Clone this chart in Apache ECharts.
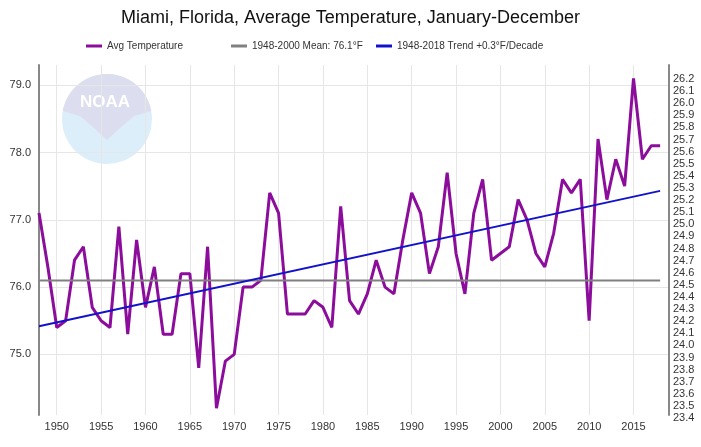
<!DOCTYPE html>
<html><head><meta charset="utf-8">
<script src="https://cdn.jsdelivr.net/npm/echarts@6/dist/echarts.min.js"></script>
<style>html,body{margin:0;padding:0;background:#fff}#c{width:701px;height:447px}</style>
</head><body><div id="c"></div>
<script>
// ---- data ----
const years = [1948,1949,1950,1951,1952,1953,1954,1955,1956,1957,
  1958,1959,1960,1961,1962,1963,1964,1965,1966,1967,
  1968,1969,1970,1971,1972,1973,1974,1975,1976,1977,
  1978,1979,1980,1981,1982,1983,1984,1985,1986,1987,
  1988,1989,1990,1991,1992,1993,1994,1995,1996,1997,
  1998,1999,2000,2001,2002,2003,2004,2005,2006,2007,
  2008,2009,2010,2011,2012,2013,2014,2015,2016,2017,2018];
const avgTemp = [77.1,76.3,75.4,75.5,76.4,76.6,75.7,75.5,75.4,76.9,
  75.3,76.7,75.7,76.3,75.3,75.3,76.2,76.2,74.8,76.6,
  74.2,74.9,75.0,76.0,76.0,76.1,77.4,77.1,75.6,75.6,
  75.6,75.8,75.7,75.4,77.2,75.8,75.6,75.9,76.4,76.0,
  75.9,76.7,77.4,77.1,76.2,76.6,77.7,76.5,75.9,77.1,
  77.6,76.4,76.5,76.6,77.3,77.0,76.5,76.3,76.8,77.6,
  77.4,77.6,75.5,78.2,77.3,77.9,77.5,79.1,77.9,78.1,78.1];
const meanYears = [1948, 2018];
const meanValues = [76.1, 76.1];
const trendYears = [1948, 2018];
const trendValues = [75.42, 77.43];
const xTickLabels = [1950,1955,1960,1965,1970,1975,1980,1985,1990,1995,2000,2005,2010,2015];
const leftTickLabels = [75, 76, 77, 78, 79];
const seriesNames = ['Avg Temperature', '1948-2000 Mean: 76.1°F', '1948-2018 Trend +0.3°F/Decade'];
const titleText = 'Miami, Florida, Average Temperature, January-December';

// ---- chart ----
const FONT = "'Liberation Sans', Arial, sans-serif";
const leftMin = 74.1, leftMax = 79.3;
const toC = f => (f - 32) / 1.8;

// decorative NOAA-like watermark shape
const LC = {x: 107, y: 119, r: 45};
const sky = [];
const a0 = Math.asin(8 / LC.r);
for (let k = 0; k <= 28; k++) {
  const t = (Math.PI + a0) + (Math.PI - 2 * a0) * k / 28;
  sky.push([LC.x + LC.r * Math.cos(t), LC.y + LC.r * Math.sin(t)]);
}
sky.push([134, 116], [120, 128], [107, 140], [94, 128], [80, 116]);

const chart = echarts.init(document.getElementById('c'), null, {renderer: 'canvas'});
const legendBase = {
  top: 36, icon: 'rect', itemWidth: 16, itemHeight: 3, itemGap: 0,
  textStyle: {fontSize: 10, color: '#333', fontFamily: FONT}
};
chart.setOption({
  animation: false,
  textStyle: {fontFamily: FONT},
  title: {text: titleText, left: 'center', top: 4,
    textStyle: {fontSize: 18, fontWeight: 'normal', color: '#111', fontFamily: FONT}},
  legend: [
    Object.assign({}, legendBase, {left: 81, data: [seriesNames[0]]}),
    Object.assign({}, legendBase, {left: 226, data: [seriesNames[1]]}),
    Object.assign({}, legendBase, {left: 371, data: [seriesNames[2]]})
  ],
  grid: {left: 39, right: 32, top: 65, bottom: 32, containLabel: false},
  graphic: [
    {type: 'circle', z: -10, silent: true, shape: {cx: LC.x, cy: LC.y, r: LC.r},
      style: {fill: '#d8ecf8', opacity: 0.9}},
    {type: 'polygon', z: -9, silent: true, shape: {points: sky},
      style: {fill: '#dcdcee', opacity: 0.95}},
    {type: 'text', z: -8, silent: true, style: {text: 'NOAA', x: LC.x - 2, y: 102, align: 'center', verticalAlign: 'middle',
      fill: '#ffffff', font: 'bold 17px ' + FONT}}
  ],
  xAxis: {
    type: 'value', min: 1948, max: 2019, splitNumber: 14, minInterval: 5, maxInterval: 5,
    axisLine: {show: false}, axisTick: {show: false},
    axisLabel: {color: '#333', fontSize: 11, margin: 6,
      formatter: v => xTickLabels.indexOf(Math.round(v)) >= 0 && Math.abs(v - Math.round(v)) < 1e-6 ? String(Math.round(v)) : ''},
    splitLine: {show: true, showMinLine: false, showMaxLine: false, lineStyle: {color: '#e6e6e6', width: 1}}
  },
  yAxis: [
    {
      type: 'value', position: 'left', min: leftMin, max: leftMax, splitNumber: 5, minInterval: 1, maxInterval: 1,
      axisLine: {show: true, lineStyle: {color: '#888', width: 2}}, axisTick: {show: false},
      axisLabel: {color: '#333', fontSize: 11, margin: 8,
        formatter: v => leftTickLabels.some(t => Math.abs(t - v) < 1e-6) ? v.toFixed(1) : ''},
      splitLine: {show: true, showMinLine: false, showMaxLine: false, lineStyle: {color: '#e6e6e6', width: 1}}
    },
    {
      type: 'value', position: 'right', min: toC(leftMin), max: toC(leftMax), splitNumber: 29, minInterval: 0.1, maxInterval: 0.1,
      axisLine: {show: true, lineStyle: {color: '#888', width: 2}}, axisTick: {show: false},
      axisLabel: {color: '#333', fontSize: 11, margin: 4, verticalAlign: 'top', lineHeight: 9,
        formatter: v => Math.abs(v * 10 - Math.round(v * 10)) < 1e-6 ? v.toFixed(1) : ''},
      splitLine: {show: false}
    }
  ],
  series: [
    {name: seriesNames[0], type: 'line', yAxisIndex: 0, symbol: 'none', color: '#8c0c9c',
      lineStyle: {width: 3, color: '#8c0c9c'},
      data: years.map((y, i) => [y, avgTemp[i]])},
    {name: seriesNames[1], type: 'line', yAxisIndex: 0, symbol: 'none', color: '#808080',
      lineStyle: {width: 2, color: '#808080'},
      data: meanYears.map((y, i) => [y, meanValues[i]])},
    {name: seriesNames[2], type: 'line', yAxisIndex: 0, symbol: 'none', color: '#1212cc',
      lineStyle: {width: 2, color: '#1212cc'},
      data: trendYears.map((y, i) => [y, trendValues[i]])}
  ]
});
</script></body></html>
